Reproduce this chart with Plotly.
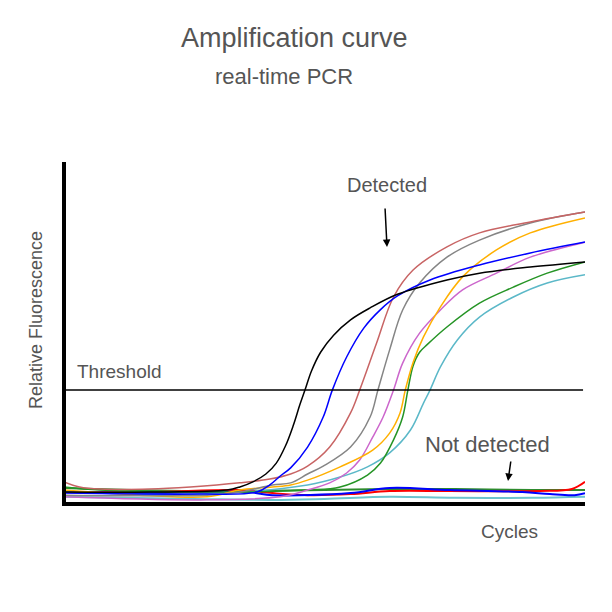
import plotly.graph_objects as go

# ---------------- data (cycles, relative fluorescence) ----------------
black_x = [0, 6.6, 12.5, 13.5, 14.5, 15.5, 16.3, 17.0, 17.6, 18.1, 18.5, 19.0, 19.7, 20.7, 22.0, 23.5, 25.6, 29.4, 31.9, 35.8, 40]
black_y = [3.5, 3.5, 4.1, 5.0, 6.5, 8.8, 12.0, 17.0, 23.0, 29.0, 33.4, 39.0, 44.5, 49.5, 54.0, 57.5, 61.5, 65.7, 67.7, 69.5, 71.0]

blue_x = [0, 10.4, 14.8, 15.8, 16.6, 17.4, 18.7, 19.9, 20.6, 21.7, 23.0, 24.3, 25.6, 28.1, 31.9, 35.8, 40]
blue_y = [3.2, 2.9, 3.5, 5.6, 8.2, 10.6, 16.7, 25.5, 33.4, 43.1, 51.5, 57.0, 61.0, 65.7, 70.1, 73.6, 76.8]

brown_x = [0, 1.2, 2.8, 6.6, 9.7, 13.5, 15.8, 17.4, 18.7, 20.4, 22.0, 22.7, 24.0, 25.3, 26.8, 29.4, 31.9, 35.8, 40]
brown_y = [6.5, 5.0, 4.4, 4.4, 5.0, 6.2, 7.3, 8.8, 11.1, 16.7, 26.7, 33.4, 47.2, 60.7, 68.6, 75.4, 79.5, 82.7, 85.6]

gray_x = [0, 11.0, 13.5, 16.0, 17.4, 18.7, 19.9, 22.0, 23.5, 24.1, 25.0, 26.0, 27.3, 29.4, 31.9, 35.8, 40]
gray_y = [2.6, 2.6, 3.5, 5.6, 6.2, 8.8, 11.1, 16.7, 25.5, 33.4, 45.2, 56.9, 64.8, 72.4, 77.4, 82.4, 85.6]

orange_x = [0, 5.8, 11.0, 13.5, 16.0, 17.4, 18.7, 21.2, 23.7, 25.0, 25.8, 26.2, 26.8, 27.6, 28.9, 30.6, 33.2, 35.8, 40]
orange_y = [4.1, 2.6, 2.1, 4.1, 5.0, 5.6, 7.0, 10.9, 15.8, 20.8, 26.7, 33.4, 41.5, 49.0, 57.8, 66.6, 74.5, 79.5, 83.9]

magenta_x = [0, 10.5, 16.6, 18.7, 20.4, 21.7, 22.7, 23.7, 24.5, 25.3, 26.0, 27.3, 28.9, 30.6, 33.2, 35.8, 40]
magenta_y = [2.1, 1.2, 2.1, 4.1, 6.2, 9.1, 12.9, 19.6, 25.5, 33.4, 41.3, 50.1, 56.9, 62.8, 67.7, 72.4, 76.8]

green_x = [0, 2.8, 10.4, 18.7, 21.2, 23.3, 24.3, 25.3, 26.0, 26.4, 26.8, 27.3, 27.9, 29.4, 31.9, 34.5, 37.1, 40]
green_y = [5.0, 4.1, 3.5, 4.1, 5.0, 8.5, 12.0, 18.8, 25.5, 33.4, 40.5, 44.5, 46.8, 51.9, 58.9, 63.6, 67.7, 71.0]

cyan_x = [0, 10.4, 18.7, 21.2, 23.3, 25.0, 26.6, 27.6, 28.1, 28.9, 30.2, 31.9, 34.5, 37.1, 40]
cyan_y = [3.5, 2.9, 5.6, 7.9, 10.9, 15.0, 21.7, 29.6, 33.4, 40.2, 48.1, 54.8, 60.7, 64.8, 67.2]

# not detected
nd_cyan_x = [0, 10, 16.0, 20, 25, 30, 36, 40]
nd_cyan_y = [2.1, 1.5, 1.2, 1.5, 2.1, 1.8, 1.8, 2.1]

nd_green_x = [0, 10, 20, 25, 30, 36, 40]
nd_green_y = [4.7, 3.8, 4.1, 4.4, 4.4, 4.1, 4.1]

nd_red_x = [0, 6.6, 13.5, 16.0, 18.7, 22.0, 25.0, 29.6, 36.5, 39.0, 40]
nd_red_y = [3.5, 3.5, 4.1, 3.2, 2.6, 2.9, 3.8, 3.8, 3.8, 4.4, 6.5]

nd_blue_x = [0, 5.8, 14.1, 16.0, 22.0, 25.0, 29.6, 35.2, 37.3, 39.2, 40]
nd_blue_y = [3.5, 3.2, 3.5, 2.6, 3.2, 4.7, 4.1, 3.5, 2.9, 2.6, 3.2]

THRESHOLD = 33.4
X_MAX = 40
Y_MAX = 100

# ---------------- figure ----------------
fig = go.Figure()

def add(x, y, color, width=1.5):
    fig.add_trace(go.Scatter(x=x, y=y, mode="lines",
                             line=dict(color=color, width=width, shape="spline", smoothing=1.0),
                             hoverinfo="skip", showlegend=False))

add(nd_cyan_x, nd_cyan_y, "#6CC3CE", 2)
add(nd_green_x, nd_green_y, "#2E8B2E", 2)
add(nd_red_x, nd_red_y, "#FF0000", 2)
add(nd_blue_x, nd_blue_y, "#0000FF", 2)

add(cyan_x, cyan_y, "#5BB8C8")
add(green_x, green_y, "#259425")
add(magenta_x, magenta_y, "#CC66CC")
add(orange_x, orange_y, "#FFB000")
add(gray_x, gray_y, "#858585")
add(brown_x, brown_y, "#C86464")
add(blue_x, blue_y, "#0000FF")
add(black_x, black_y, "#000000")

# page has an 8px body margin: work in screen pixels, shift by OFF
OFF = 8
W = H = 612 - OFF
L, R, T, B = 64, 585, 163, 504

def P(px, py):
    return (px - L) / (R - L), (B - py) / (B - T)

shapes = [
    dict(type="line", xref="x", yref="y", x0=0, x1=39.85, y0=THRESHOLD, y1=THRESHOLD,
         line=dict(color="black", width=1.5)),
    dict(type="line", xref="paper", yref="paper", x0=0, x1=0, y0=P(0, 506)[1], y1=P(0, 162)[1],
         line=dict(color="black", width=4)),
    dict(type="line", xref="paper", yref="paper", x0=P(62, 0)[0], x1=1, y0=0, y1=0,
         line=dict(color="black", width=4)),
]

TXT = "#555555"
FONT = "Liberation Sans, Arial, sans-serif"
ann = []

def text(s, px, py, size, xanchor="center", angle=0):
    x, y = P(px, py)
    ann.append(dict(text=s, x=x, y=y, xref="paper", yref="paper", showarrow=False,
                    xanchor=xanchor, yanchor="middle", textangle=angle,
                    font=dict(size=size, color=TXT, family=FONT)))

def arrow(x_tail, y_tail, x_tip, y_tip):
    x, y = P(x_tip, y_tip)
    ann.append(dict(text="", x=x, y=y, xref="paper", yref="paper", showarrow=True,
                    ax=x_tail - x_tip, ay=y_tail - y_tip, arrowhead=2, arrowsize=1,
                    arrowwidth=1.5, arrowcolor="black", standoff=0))

text("Amplification curve", 294, 38, 27)
text("real-time PCR", 284, 76, 22)
text("Detected", 387, 185, 20)
text("Not detected", 487, 444, 22)
text("Threshold", 75, 371, 19, xanchor="left")
text("Cycles", 509, 531, 19)
text("Relative Fluorescence", 36, 320, 18, angle=-90)
arrow(385, 207, 387, 247)
arrow(511, 460, 508, 481)

fig.update_layout(
    width=W, height=H,
    margin=dict(l=L - OFF, r=W - (R - OFF), t=T - OFF, b=H - (B - OFF), pad=0),
    paper_bgcolor="white", plot_bgcolor="white",
    xaxis=dict(range=[0, X_MAX], visible=False, showgrid=False, zeroline=False),
    yaxis=dict(range=[0, Y_MAX], visible=False, showgrid=False, zeroline=False),
    shapes=shapes, annotations=ann,
)

fig.write_html("out.html")
